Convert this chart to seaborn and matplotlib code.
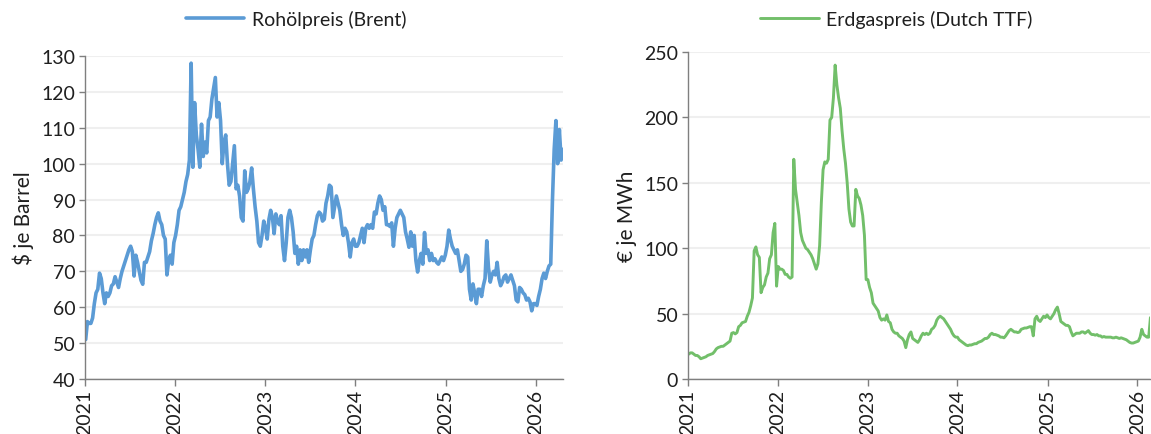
import pandas as pd
import matplotlib
matplotlib.use("Agg")
import matplotlib.pyplot as plt
import matplotlib.dates as mdates
import seaborn as sns

# weekly readings (Mondays), Brent in $/barrel
brent_2021 = [51, 56, 55.5, 55.5, 57, 61, 64, 65, 69.5, 68, 64, 61, 64,
              63, 64, 66, 66.5, 68.5, 67, 65.5, 68, 70, 71.5, 73, 74.5, 76,
              77, 75.5, 68.7, 74.5, 72.5, 70, 67.5, 66.4, 72.5, 72.5, 74, 75.5, 78.5,
              80.5, 83, 85, 86.3, 84, 83, 80, 79, 69, 73, 74.5, 72, 78]
brent_2022 = [80, 83, 87, 88, 90, 92, 95, 97, 101, 128, 99, 117, 108,
              104, 99, 111, 102, 106, 103, 112, 113, 118, 121, 124, 113, 117,
              112, 100, 106, 108, 100, 94, 95, 100, 105, 93, 94, 91, 85,
              84, 98, 92, 93, 95, 98.8, 93, 88, 84, 78, 77, 80, 84]
brent_2023 = [82, 79, 84.5, 87, 85, 80.5, 86, 84, 83, 85.5, 77, 73, 78,
              85, 87, 85, 81, 75, 77, 72, 76, 73, 76, 74, 76, 72.5,
              76, 79, 80, 83, 85.5, 86.5, 86, 84, 84.5, 89, 91, 94, 93.5,
              85, 88, 91, 89, 87, 83, 80, 82, 81, 78, 74, 78, 79]
brent_2024 = [77, 77, 78, 80, 82, 78, 82, 83, 82, 83, 82, 86.5, 86,
              89, 91, 90, 87, 88, 83, 83, 82.5, 83.5, 77, 82, 85, 86,
              87, 86, 85, 81, 79, 76.7, 81, 77, 80, 73, 69.8, 73, 75, 72,
              80.8, 75, 76, 73, 75, 73, 73.5, 72.5, 72, 73, 74, 73, 74.5]
brent_2025 = [77, 81.5, 79, 77, 76, 75, 76, 73, 70, 70.5, 72, 74.5, 74,
              65, 62, 66.5, 64, 61, 65, 65, 63, 66, 68, 78.5, 71, 67,
              69, 70, 69, 72.5, 68, 66, 67, 68.5, 69, 67, 68, 69, 67.5,
              66, 62, 61.5, 65.5, 65, 64, 63.5, 62, 62.5, 61.5, 59, 61, 61]
brent_2026 = [60.5, 63, 65, 68, 69.5, 68, 70, 71.5, 72, 90, 104, 112, 100,
              109.5, 101, 104]

# weekly readings (Mondays), Dutch TTF in EUR/MWh
ttf_2021 = [19, 20, 20, 19, 18, 18, 17, 15.5, 16, 16.5, 17, 18, 18.5,
            19, 19.5, 21, 23, 24, 24.5, 25, 25, 26, 27, 28, 29, 35,
            35.5, 34.5, 35.5, 40, 41, 43, 43.5, 44, 48, 51, 56, 62, 98,
            101, 95, 93, 66, 70, 72, 78, 81, 92, 95, 112, 119, 71]
ttf_2022 = [86, 84, 84, 83, 80, 80, 78, 77, 78, 168, 145, 135, 125,
            112, 106, 103, 100, 99, 97, 95, 92, 88, 84, 88, 102, 135,
            160, 166, 165, 168, 198, 200, 215, 240, 225, 215, 207, 190, 176,
            165, 150, 130, 120, 117, 117, 145, 140, 138, 133, 125, 110, 76]
ttf_2023 = [76, 70, 66, 58, 56, 54, 52, 47, 45, 46, 45, 49, 44,
            43, 38, 36, 35, 35, 33, 32, 31, 29, 24, 30, 34, 36,
            31, 30, 29, 28, 30, 33, 35, 34, 35, 34, 35, 38, 39,
            41, 45, 47, 48, 47, 46, 44, 42, 40, 38, 35, 33, 32]
ttf_2024 = [32, 30, 29, 28, 27, 26, 25.5, 26, 26, 26.5, 27, 27, 28,
            28.5, 29, 30, 31, 31, 32, 34, 35, 34, 34, 33.5, 33, 32,
            32, 31.5, 33, 35, 37, 38, 37, 36, 36, 35.5, 36, 38, 38.5, 39,
            39, 39.5, 40, 40, 33, 46, 48, 45, 44, 46, 48, 47, 49]
ttf_2025 = [47, 46, 48, 50, 53, 55, 50, 44, 43, 42, 41, 41, 40,
            36, 33, 34, 35, 35, 35, 36, 36, 35, 36, 37, 35, 34,
            34, 33.5, 34, 33, 33, 32, 32.5, 32, 32, 32, 32, 31.5, 31.5,
            32, 31.5, 31, 31.5, 31, 30.5, 30, 29, 28, 27.5, 27.5, 28, 28.5]
ttf_2026 = [29, 32, 38, 34, 33, 32, 32, 47]

brent = brent_2021 + brent_2022 + brent_2023 + brent_2024 + brent_2025 + brent_2026
ttf = ttf_2021 + ttf_2022 + ttf_2023 + ttf_2024 + ttf_2025 + ttf_2026

df_brent = pd.DataFrame({"Datum": pd.date_range("2021-01-04", periods=len(brent), freq="W-MON"),
                         "Wert": brent})
df_ttf = pd.DataFrame({"Datum": pd.date_range("2021-01-04", periods=len(ttf), freq="W-MON"),
                       "Wert": ttf})

sns.set_theme(style="white")
plt.rcParams["font.family"] = ["Lato", "DejaVu Sans"]
text_col = "#1F1F1F"

fig = plt.figure(figsize=(11.51, 4.35), dpi=100)
ax1 = fig.add_axes([0.0738, 0.1264, 0.4152, 0.7426])
ax2 = fig.add_axes([0.5977, 0.1264, 0.4018, 0.7517])

panels = [
    (ax1, df_brent, "#5B9BD5", 2.6, "Rohölpreis (Brent)", "$ je Barrel", (40, 130), range(40, 131, 10), 0.257),
    (ax2, df_ttf, "#72BF6A", 2.1, "Erdgaspreis (Dutch TTF)", "€ je MWh", (0, 250), range(0, 251, 50), 0.779),
]

for ax, df, col, lw, name, ylab, ylim, yticks, legx in panels:
    sns.lineplot(data=df, x="Datum", y="Wert", color=col, linewidth=lw, label=name, ax=ax)
    ax.set_ylim(*ylim)
    ax.set_yticks(list(yticks))
    ax.set_xlim(pd.Timestamp("2021-01-01"), df["Datum"].iloc[-1])
    ax.xaxis.set_major_locator(mdates.YearLocator())
    ax.xaxis.set_major_formatter(mdates.DateFormatter("%Y"))
    ax.set_xlabel("")
    ax.set_ylabel(ylab, fontsize=15, color=text_col, labelpad=5)
    ax.grid(axis="y", color="#EFEFEF", linewidth=1.5)
    ax.set_axisbelow(True)
    for s in ["top", "right"]:
        ax.spines[s].set_visible(False)
    for s in ["left", "bottom"]:
        ax.spines[s].set_color("#7F7F7F")
        ax.spines[s].set_linewidth(1.0)
    ax.tick_params(axis="y", left=True, length=4, width=1, color="#7F7F7F",
                   labelsize=14, labelcolor=text_col, pad=3)
    ax.tick_params(axis="x", bottom=True, length=5, width=1, color="#7F7F7F",
                   labelsize=14, labelcolor=text_col, rotation=90, pad=2)
    ax.legend(loc="center", bbox_to_anchor=(legx, 0.954), bbox_transform=fig.transFigure,
              frameon=False, fontsize=14, handlelength=3.0, handletextpad=0.4,
              labelcolor=text_col)

fig.savefig("out.png", dpi=100)
